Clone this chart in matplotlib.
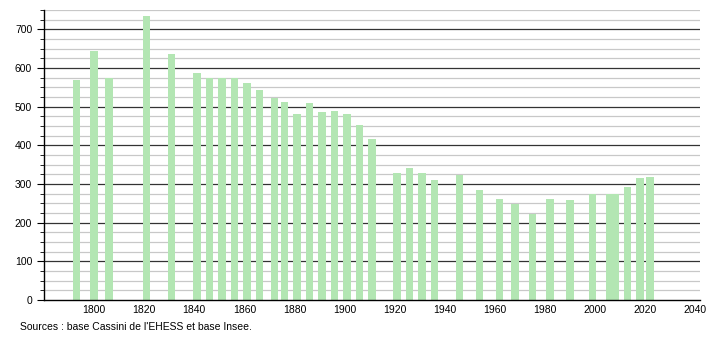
import numpy as np
import matplotlib.pyplot as plt
from matplotlib.ticker import MultipleLocator

plt.rcParams['font.family'] = ['Liberation Sans', 'DejaVu Sans']

# Recensements
annees = [1793, 1800, 1806, 1821, 1831, 1841, 1846, 1851, 1856, 1861, 1866,
          1872, 1876, 1881, 1886, 1891, 1896, 1901, 1906, 1911, 1921, 1926,
          1931, 1936, 1946, 1954, 1962, 1968, 1975, 1982, 1990, 1999, 2006,
          2008, 2013, 2018, 2022]
population = [568, 644, 575, 735, 635, 586, 575, 575, 575, 560, 542,
              523, 511, 480, 508, 485, 488, 480, 451, 417, 327, 340,
              329, 309, 324, 285, 262, 249, 223, 260, 259, 275, 274,
              274, 293, 316, 319]
source = "Sources : base Cassini de l'EHESS et base Insee."

fig = plt.figure(figsize=(7.1, 3.4), dpi=100)
ax = fig.add_axes([0.062, 0.118, 0.924, 0.853])

# grille
for y in np.arange(25, 751, 25):
    if y % 100 == 0:
        ax.axhline(y, color='#333333', lw=0.9, zorder=1)
    else:
        ax.axhline(y, color='#c8c8c8', lw=0.9, zorder=1)

ax.bar(annees, population, width=3.0, color='#b3e6b3', zorder=2)

ax.set_xlim(1780, 2042)
ax.set_ylim(0, 750)
ax.set_xticks(range(1800, 2041, 20))
ax.yaxis.set_major_locator(MultipleLocator(100))
ax.yaxis.set_minor_locator(MultipleLocator(25))
ax.tick_params(axis='x', length=0, labelsize=7.5, pad=4)
ax.tick_params(axis='y', which='major', length=5, labelsize=7.5)
ax.tick_params(axis='y', which='minor', length=3)

for s in ['top', 'right']:
    ax.spines[s].set_visible(False)
ax.spines['left'].set_linewidth(1.0)
ax.spines['bottom'].set_linewidth(1.0)

fig.text(20 / 710, 1 - 327 / 340, source, fontsize=7.5, va='center')

plt.savefig('out.png', dpi=100)
